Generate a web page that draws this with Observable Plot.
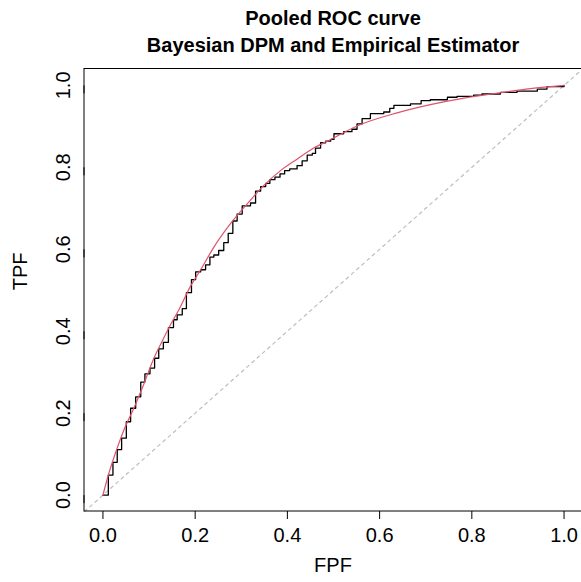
<!DOCTYPE html>
<html><head><meta charset="utf-8">
<script src="https://cdn.jsdelivr.net/npm/d3@7"></script>
<script src="https://cdn.jsdelivr.net/npm/@observablehq/plot@0.6"></script>
<style>body{margin:0;background:#fff} svg{display:block}</style>
</head><body><div id="chart"></div>
<script>
const titleLines = ["Pooled ROC curve", "Bayesian DPM and Empirical Estimator"];
const xLabel = "FPF";
const yLabel = "TPF";
const tickValues = [0, 0.2, 0.4, 0.6, 0.8, 1.0];

// Empirical ROC (step function): FPF where TPF jumps, and TPF after the jump
const empFPF = [0.000,0.0117,0.0217,0.031,0.0405,0.0507,0.060,0.071,0.082,0.091,0.102,0.112,0.121,0.131,0.142,0.153,0.161,0.172,0.181,0.192,0.201,0.212,0.2226,0.232,0.2405,0.251,0.262,0.2717,0.2817,0.291,0.302,0.320,0.331,0.342,0.353,0.362,0.373,0.384,0.394,0.405,0.421,0.432,0.443,0.454,0.461,0.472,0.483,0.494,0.501,0.522,0.540,0.551,0.562,0.580,0.609,0.622,0.631,0.667,0.690,0.710,0.747,0.768,0.804,0.822,0.862,0.898,0.942,0.963,1.000];
const empTPF = [0.000,0.049,0.080,0.111,0.139,0.179,0.212,0.240,0.276,0.296,0.310,0.334,0.357,0.373,0.409,0.428,0.440,0.455,0.494,0.526,0.545,0.550,0.562,0.581,0.586,0.597,0.616,0.639,0.669,0.686,0.706,0.713,0.742,0.753,0.761,0.770,0.776,0.784,0.792,0.796,0.804,0.816,0.830,0.834,0.847,0.860,0.864,0.868,0.882,0.887,0.893,0.906,0.919,0.931,0.935,0.944,0.951,0.955,0.963,0.965,0.971,0.973,0.976,0.979,0.983,0.986,0.991,0.997,1.000];

// Bayesian DPM pooled ROC curve
const dpmFPF = [0,0.0117,0.0297,0.0455,0.067,0.089,0.11,0.129,0.147,0.165,0.19,0.212,0.241,0.277,0.313,0.349,0.385,0.421,0.457,0.494,0.551,0.638,0.71,0.783,0.855,0.927,1];
const dpmTPF = [0,0.049,0.111,0.159,0.212,0.272,0.333,0.377,0.417,0.453,0.51,0.55,0.606,0.663,0.711,0.756,0.792,0.82,0.847,0.868,0.901,0.933,0.953,0.969,0.981,0.992,1];

// chance line y = x, across the whole plotting region
const chanceLine = [-0.04, 1.04];
const axisDomain = [-0.04, 1.04];

const emp = empFPF.map((f, i) => ({fpf: f, tpf: empTPF[i]}));
const dpm = dpmFPF.map((f, i) => ({fpf: f, tpf: dpmTPF[i]}));
const diag = chanceLine.map(v => ({fpf: v, tpf: v}));
const box = [{x1: axisDomain[0], x2: axisDomain[1], y1: axisDomain[0], y2: axisDomain[1]}];

const font = "Liberation Sans, Arial, Helvetica, sans-serif";

const chart = Plot.plot({
  width: 581,
  height: 582,
  marginLeft: 84,
  marginRight: 0,
  marginTop: 68.5,
  marginBottom: 71,
  style: {fontFamily: font, background: "#fff", color: "#000"},
  x: {domain: axisDomain, range: [84, 582]},
  y: {domain: axisDomain, range: [511, 68.5]},
  marks: [
    Plot.line(diag, {x: "fpf", y: "tpf", stroke: "#BEBEBE", strokeWidth: 1.2, strokeDasharray: "3,4"}),
    Plot.line(emp, {x: "fpf", y: "tpf", curve: "step-after", stroke: "#000", strokeWidth: 1.3}),
    Plot.line(dpm, {x: "fpf", y: "tpf", curve: "monotone-x", stroke: "#DF536B", strokeWidth: 1.2}),
    Plot.rect(box, {x1: "x1", x2: "x2", y1: "y1", y2: "y2", fill: "none", stroke: "#000", strokeWidth: 1}),
    Plot.axisX(tickValues, {tickSize: 8, tickPadding: 8, tickFormat: ".1f", fontSize: 20, label: null, stroke: "#000"}),
    Plot.axisY(tickValues, {tickSize: 8, tickPadding: 7, tickFormat: ".1f", fontSize: 20, label: null, rotate: -90, textAnchor: "middle", lineAnchor: "bottom", stroke: "#000"}),
    Plot.text([xLabel], {text: d => d, frameAnchor: "bottom", dy: 60, fontSize: 20}),
    Plot.text([yLabel], {text: d => d, frameAnchor: "left", dx: -64, rotate: -90, fontSize: 20}),
    Plot.text([titleLines[0]], {text: d => d, frameAnchor: "top", dy: -58, fontSize: 20, fontWeight: "bold"}),
    Plot.text([titleLines[1]], {text: d => d, frameAnchor: "top", dy: -31, fontSize: 20, fontWeight: "bold"})
  ]
});
document.getElementById("chart").appendChild(chart);
</script>
</body></html>
